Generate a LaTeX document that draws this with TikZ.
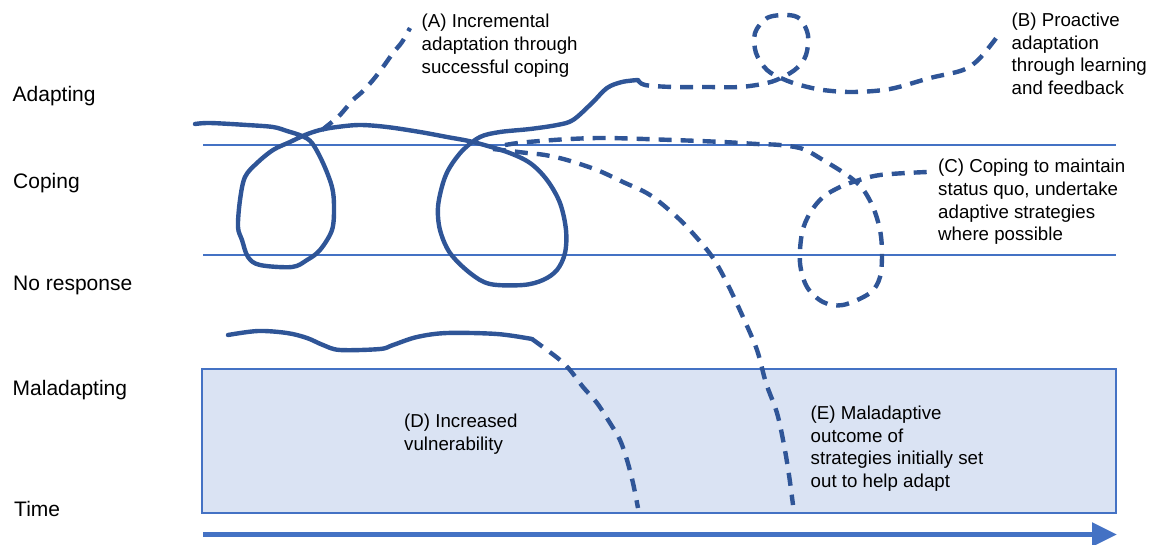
\documentclass[tikz,border=0pt]{standalone}
\usepackage{fontspec}
\setmainfont{Liberation Sans}
\usetikzlibrary{arrows.meta}
\definecolor{curveblue}{HTML}{2F5597}
\definecolor{lineblue}{HTML}{4472C4}
\definecolor{boxfill}{HTML}{DAE3F3}
\tikzset{
  lbl/.style={anchor=base west, inner sep=0pt, font=\fontsize{21}{25}\selectfont},
  ann/.style={anchor=base west, inner sep=0pt, align=left, font=\fontsize{18.7}{22.6}\selectfont},
  curve/.style={draw=curveblue, line width=4.4pt, line cap=round, line join=round},
  dashcurve/.style={curve, dash pattern=on 13pt off 9pt, line cap=butt},
  levelline/.style={draw=lineblue, line width=1.8pt},
  malbox/.style={draw=lineblue, fill=boxfill, line width=1.8pt}
}
\begin{document}
\begin{tikzpicture}[x=1pt,y=-1pt]
\useasboundingbox (0,0) rectangle (1156,544);

% maladapting box
\coordinate (boxtl) at (202,369);
\coordinate (boxbr) at (1116,513);
\draw[malbox] (boxtl) rectangle (boxbr);

% level lines
\coordinate (c1a) at (203,145); \coordinate (c1b) at (1116,145);
\coordinate (c2a) at (203,255); \coordinate (c2b) at (1116,255);
\draw[levelline] (c1a) -- (c1b);
\draw[levelline] (c2a) -- (c2b);

% time arrow
\coordinate (tstart) at (203,534.5);
\coordinate (tend) at (1117,534.5);
\draw[draw=lineblue, line width=5.5pt, -{Triangle[length=25pt,width=23pt]}] (tstart) -- (tend);

% left labels
\node[lbl] (adapting) at (12.5,101) {Adapting};
\node[lbl] (coping) at (13,188) {Coping};
\node[lbl] (noresp) at (13,290) {No response};
\node[lbl] (malad) at (12.5,395) {Maladapting};
\node[lbl] (time) at (14,516) {Time};

% annotations (base anchor = baseline of last line)
\node[ann] (annA) at (421.5,73) {(A) Incremental\\adaptation through\\successful coping};
\node[ann] (annB) at (1011.5,94.3) {(B) Proactive\\adaptation\\through learning\\and feedback};
\node[ann] (annC) at (938,240.7) {(C) Coping to maintain\\status quo, undertake\\adaptive strategies\\where possible};
\node[ann] (annD) at (404,450) {(D) Increased\\vulnerability};
\node[ann] (annE) at (810.5,487.5) {(E) Maladaptive\\outcome of\\strategies initially set\\out to help adapt};

% main solid path with two loops
\draw[curve] plot[smooth, tension=0.55] coordinates {
 (195,124) (210,123) (247,125) (273,127) (287,131) (302,136) (312,143) (323,163)
 (332,187) (334,207) (332,230) (320,250) (307,260) (292,267) (260,265) (248,257)
 (242,240) (238,227) (240,200) (245,177) (257,163) (273,150) (290,142) (305,135)
 (320,130) (337,127) (360,125) (387,127) (420,132) (447,137) (473,142) (507,152)
 (530,163) (547,180) (560,203) (566,230) (565,253) (557,270) (543,280) (523,285)
 (490,284) (470,273) (450,253) (440,230) (438,207) (443,183) (450,167) (463,150)
 (480,137) (500,132) (530,129) (557,125) (573,120) (592,103) (607,88) (622,82) (638,80)};

% (A) dashed
\draw[dashcurve] plot[smooth, tension=0.55] coordinates {
 (322,130) (332,122) (340,115) (353,100) (362,92) (373,80) (383,67) (393,53) (402,42) (410,28)};

% (B) dashed with loop
\draw[dashcurve] plot[smooth, tension=0.55] coordinates {
 (638,80) (645,85) (673,87) (707,87) (740,87) (767,83) (783,77) (797,68) (806,55)
 (808,35) (800,19) (787,15) (767,18) (755,33) (756,53) (767,70) (783,79) (800,85)
 (823,90) (853,92) (890,89) (930,78) (963,70) (980,58) (1000,33)};

% (C) dashed with loop
\draw[dashcurve] plot[smooth, tension=0.55] coordinates {
 (505,145) (518,143) (540,141) (570,139) (607,138) (673,140) (723,142) (757,144)
 (780,145) (803,149) (823,160) (847,175) (862,188) (873,207) (880,230) (882,253)
 (880,277) (870,293) (843,305) (823,302) (807,287) (800,263) (802,233) (810,213)
 (823,197) (840,187) (853,182) (880,175) (927,172)};

% (E) dashed
\draw[dashcurve] plot[smooth, tension=0.55] coordinates {
 (493,149) (510,151) (527,153) (545,155) (567,160) (597,170) (623,182) (650,195)
 (677,217) (697,238) (713,258) (727,283) (743,317) (757,350) (766,383) (777,413)
 (784,445) (789,475) (793,505)};

% (D) solid then dashed
\draw[curve] plot[smooth, tension=0.55] coordinates {
 (228,335) (258,331) (287,333) (307,338) (323,345) (340,350) (380,349) (393,345)
 (417,337) (447,333) (497,334) (532,339)};
\draw[dashcurve] plot[smooth, tension=0.55] coordinates {
 (532,339) (547,350) (560,360) (570,370) (583,387) (597,403) (610,423) (620,440)
 (627,460) (633,483) (638,508)};
\end{tikzpicture}
\end{document}
